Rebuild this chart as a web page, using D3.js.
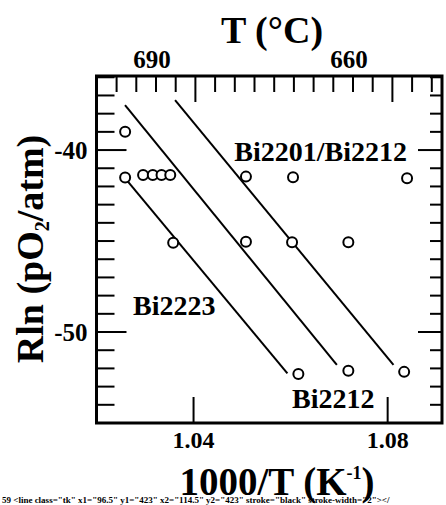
<!DOCTYPE html>
<html>
<head>
<meta charset="utf-8">
<script src="https://cdn.jsdelivr.net/npm/d3@7"></script>
<style>
    body { margin: 0; background: white; }
    text { font-family: "Liberation Serif", "Times New Roman", serif; font-weight: bold; fill: black; }
</style>
</head>
<body>
<svg id="chart" width="446" height="505"></svg>
<script>
// --- Data
const pointX = [1.0259, 1.0259, 1.0296, 1.0316, 1.0334, 1.0352, 1.0358, 1.0508, 1.0508, 1.0605, 1.0603, 1.0719, 1.0840, 1.0616, 1.0719, 1.0834]
const pointY = [-38.99, -41.51, -41.37, -41.37, -41.37, -41.37, -45.09, -41.46, -45.04, -41.50, -45.07, -45.07, -41.55, -52.31, -52.13, -52.19]

// fitted lines, one per phase boundary: [x1, y1, x2, y2]
const lineNames = ["Bi2223", "Bi2212", "Bi2201/Bi2212"]
const lineEnds = [
    [1.02588, -41.54, 1.05934, -52.27],
    [1.02588, -37.53, 1.06953, -51.81],
    [1.03619, -37.25, 1.08120, -51.81]
]

const xTicks = [1.04, 1.08]
const yTicks = d3.range(-55, -35, 1)
const yLabels = [-40, -50]
const topTicks = d3.range(648, 699, 3)
const topLabels = [690, 660]
const topLong = [684, 654]

// --- Frame
const frameL = 96.5, frameR = 442, frameT = 76, frameB = 423

const x = d3.scaleLinear().domain([1.02, 1.0912]).range([frameL, frameR])
const y = d3.scaleLinear().domain([-55, -35.93]).range([frameB, frameT])
// the top (Celsius) axis in the figure does not follow 1000/T exactly, so it gets its own scale
const xTop = d3.scaleLinear().domain([690, 660]).range([156, 353])

const svg = d3.select("#chart")

svg.append("path")
    .attr("d", `M${frameL},${frameT}H${frameR}V${frameB}H${frameL}Z`)
    .attr("fill", "none").attr("stroke", "black").attr("stroke-width", 3)

// ticks: each one a plain line, same way the fitted lines are drawn
const tickData = []
yTicks.forEach(d => {
    const len = yLabels.includes(d) ? 30 : 18
    tickData.push([frameL, y(d), frameL + len, y(d)])
    const lenR = yLabels.includes(d) ? 24 : 12
    tickData.push([frameR, y(d), frameR - lenR, y(d)])
})
xTicks.forEach(d => tickData.push([x(d), frameB, x(d), frameB - 26]))
topTicks.forEach(d => {
    const len = topLong.includes(d) ? 26 : 16
    tickData.push([xTop(d), frameT, xTop(d), frameT + len])
})

svg.selectAll("line.tk").data(tickData).join("line")
    .attr("class", "tk")
    .attr("x1", d => d[0]).attr("y1", d => d[1])
    .attr("x2", d => d[2]).attr("y2", d => d[3])
    .attr("stroke", "black").attr("stroke-width", 2)

// tick labels
svg.selectAll("text.yl").data(yLabels).join("text")
    .attr("class", "yl")
    .attr("x", frameL - 9).attr("y", d => y(d) + 9)
    .attr("text-anchor", "end").attr("font-size", 25)
    .text(d => d)

svg.selectAll("text.xl").data(xTicks).join("text")
    .attr("class", "xl")
    .attr("x", d => x(d)).attr("y", 448)
    .attr("text-anchor", "middle").attr("font-size", 24)
    .text(d => d.toFixed(2))

svg.selectAll("text.tl").data(topLabels).join("text")
    .attr("class", "tl")
    .attr("x", d => xTop(d) - 4).attr("y", 68)
    .attr("text-anchor", "middle").attr("font-size", 25)
    .text(d => d)

// axis titles
svg.append("text")
    .attr("x", 272).attr("y", 43)
    .attr("text-anchor", "middle").attr("font-size", 38)
    .text("T (°C)")

const xt = svg.append("text")
    .attr("x", 277).attr("y", 495)
    .attr("text-anchor", "middle").attr("font-size", 39)
xt.append("tspan").text("1000/T (K")
xt.append("tspan").attr("font-size", 18).attr("dy", -16).text("-1")
xt.append("tspan").attr("dy", 16).text(")")

const yt = svg.append("text")
    .attr("transform", "translate(43,249) rotate(-90)")
    .attr("text-anchor", "middle").attr("font-size", 38)
yt.append("tspan").text("Rln (pO")
yt.append("tspan").attr("font-size", 20).attr("dy", 6).text("2")
yt.append("tspan").attr("dy", -6).text("/atm)")

// --- Lines and points
svg.selectAll("line.fit").data(lineEnds).join("line")
    .attr("class", "fit")
    .attr("x1", d => x(d[0])).attr("y1", d => y(d[1]))
    .attr("x2", d => x(d[2])).attr("y2", d => y(d[3]))
    .attr("stroke", "black").attr("stroke-width", 2)

svg.selectAll("circle.pt").data(pointX).join("circle")
    .attr("class", "pt")
    .attr("cx", d => x(d)).attr("cy", (d, i) => y(pointY[i]))
    .attr("r", 5)
    .attr("fill", "white").attr("stroke", "black").attr("stroke-width", 2)

// phase labels
svg.append("text").attr("x", 407).attr("y", 161).attr("text-anchor", "end")
    .attr("font-size", 28).text(lineNames[2])
svg.append("text").attr("x", 133).attr("y", 315)
    .attr("font-size", 28).text(lineNames[0])
svg.append("text").attr("x", 292).attr("y", 408)
    .attr("font-size", 28).text(lineNames[1])

// temporary check
const first = svg.select("line.tk").node()
svg.append("text").attr("x", 2).attr("y", 503).attr("font-size", 9).attr("font-weight", "normal")
    .text(svg.selectAll("line.tk").size() + " " + (first ? first.outerHTML.slice(0, 90) : "none"))
</script>
</body>
</html>
